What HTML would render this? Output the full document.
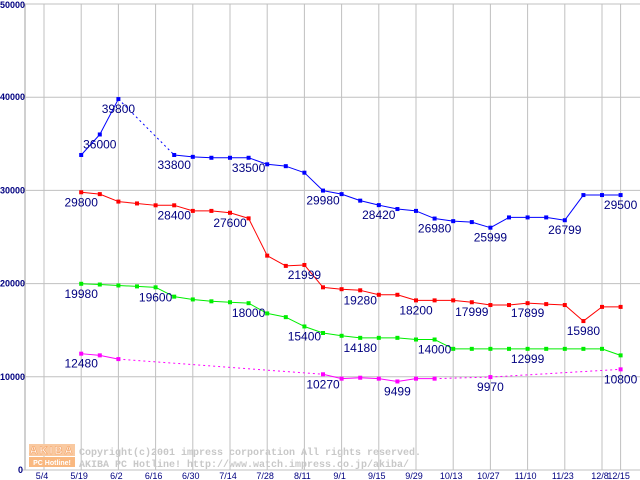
<!DOCTYPE html>
<html><head><meta charset="utf-8"><style>
body{margin:0;background:#fff;}
svg{display:block;font-family:"Liberation Sans",sans-serif;}
</style></head><body>
<svg id="chart" width="640" height="480" viewBox="0 0 640 480">
<g id="grid"></g>
<g id="wm">
 <rect x="29" y="444" width="46" height="12" fill="#f9c9a0"/>
 <text x="52" y="454" font-size="11" font-weight="bold" fill="#fff" stroke="#f5a060" stroke-width="0.6" text-anchor="middle" letter-spacing="2">AKIBA</text>
 <rect x="29" y="457" width="46" height="10" fill="#f9b880"/>
 <text x="52" y="465" font-size="7" font-weight="bold" fill="#fff" text-anchor="middle">PC Hotline!</text>
 <text x="79" y="455" font-size="10" fill="#c8c8c8" font-family="Liberation Mono, monospace" font-weight="bold">Copyright(c)2001 impress corporation All rights reserved.</text>
 <text x="79" y="467" font-size="10" fill="#c8c8c8" font-family="Liberation Mono, monospace" font-weight="bold">AKIBA PC Hotline!  http://www.watch.impress.co.jp/akiba/</text>
</g>
<g id="series"></g>
<g id="labels"></g>
</svg>
<script>
const xTickWeeks=[0,2,4,6,8,10,12,14,16,18,20,22,24,26,28,30,31];
const xTickLabels=["5/4","5/19","6/2","6/16","6/30","7/14","7/28","8/11","9/1","9/15","9/29","10/13","10/27","11/10","11/23","12/8","12/15"];
const yTicks=[0,10000,20000,30000,40000,50000];
const weeks=[2,3,4,5,6,7,8,9,10,11,12,13,14,15,16,17,18,19,20,21,22,23,24,25,26,27,28,29,30,31];
const blueVals=[33800,36000,39800,null,null,33800,33600,33500,33500,33500,32800,32600,31900,29980,29600,28900,28420,28000,27800,26980,26700,26600,25999,27100,27100,27100,26799,29500,29500,29500];
const redVals=[29800,29600,28800,28600,28400,28400,27800,27800,27600,27000,23000,21900,21999,19600,19400,19280,18800,18800,18200,18200,18200,17999,17700,17700,17899,17800,17700,15980,17500,17500];
const greenVals=[19980,19900,19800,19700,19600,18600,18300,18100,18000,17900,16800,16400,15400,14700,14400,14180,14180,14180,14000,14000,12999,12999,12999,12999,12999,12999,12999,12999,12999,12300];
const magentaVals=[12480,12300,11900,null,null,null,null,null,null,null,null,null,null,10270,9800,9900,9800,9499,9800,9800,null,null,9970,null,null,null,null,null,null,10800];
const blueLabelWeeks=[3,4,7,11,15,18,21,24,28,31];
const redLabelWeeks=[2,7,10,14,17,20,23,26,29];
const greenLabelWeeks=[2,6,11,14,17,21,26];
const magentaLabelWeeks=[2,15,19,24,31];
const labelValues={blue:[36000,39800,33800,33500,29980,28420,26980,25999,26799,29500],red:[29800,28400,27600,21999,19280,18200,17999,17899,15980],green:[19980,19600,18000,15400,14180,14000,12999],magenta:[12480,10270,9499,9970,10800]};

const NS="http://www.w3.org/2000/svg";
function xs(w){return 44+w*18.6;}
function ys(v){return 470-v*466/50000;}
function mk(tag,attrs,parent){const e=document.createElementNS(NS,tag);for(const k in attrs)e.setAttribute(k,attrs[k]);parent.appendChild(e);return e;}
const grid=document.getElementById('grid');
mk('line',{x1:25,y1:4,x2:25,y2:470,stroke:'#a0a0a0'},grid);
yTicks.forEach(v=>{
 const l=mk('line',{x1:22,y1:ys(v),x2:640,y2:ys(v),stroke:'#c0c0c0'},grid);
 
 
 const t=mk('text',{x:v===0?23:25,y:ys(v)+(v===50000?4:3),'font-size':9,'font-weight':'bold',fill:'#000080','text-anchor':'end'},grid);
 t.textContent=String(v);
 
 
});
xTickWeeks.forEach((w,i)=>{
 const l=mk('line',{x1:xs(w),y1:4,x2:xs(w),y2:470,stroke:'#c0c0c0'},grid);
 
 
 const t=mk('text',{x:xs(w)-2,y:479,'font-size':9,fill:'#000080','text-anchor':'middle'},grid);
 t.textContent=xTickLabels[i];
 
 
});
const sg=document.getElementById('series');
const lg=document.getElementById('labels');
function drawSeries(vals,color,name,lw,lv){
 const g=mk('g',{},sg);
 
 
 let prev=null;let gap=false;
 vals.forEach((v,i)=>{
  if(v===null){gap=true;return;}
  if(prev){
   const ln=mk('line',{x1:xs(weeks[prev.i]),y1:ys(prev.v),x2:xs(weeks[i]),y2:ys(v),stroke:color,'stroke-width':1},g);
   if(gap)ln.setAttribute('stroke-dasharray','2,3');
   
   
  }
  prev={i:i,v:v};gap=false;
 });
 vals.forEach((v,i)=>{
  if(v===null)return;
  const r=mk('rect',{x:xs(weeks[i])-2,y:ys(v)-2,width:4,height:4,fill:color},g);
  
  
 });
 lw.forEach((w,k)=>{
  const idx=weeks.indexOf(w);
  const t=mk('text',{x:xs(w),y:ys(vals[idx])+14,'font-size':12,fill:'#000080','text-anchor':'middle'},lg);
  t.textContent=String(lv[k]);
  
  
 });
}
drawSeries(magentaVals,'#ff00ff','magenta',magentaLabelWeeks,labelValues.magenta);
drawSeries(greenVals,'#00ee00','green',greenLabelWeeks,labelValues.green);
drawSeries(redVals,'#ff0000','red',redLabelWeeks,labelValues.red);
drawSeries(blueVals,'#0000ff','blue',blueLabelWeeks,labelValues.blue);
</script>
</body></html>
